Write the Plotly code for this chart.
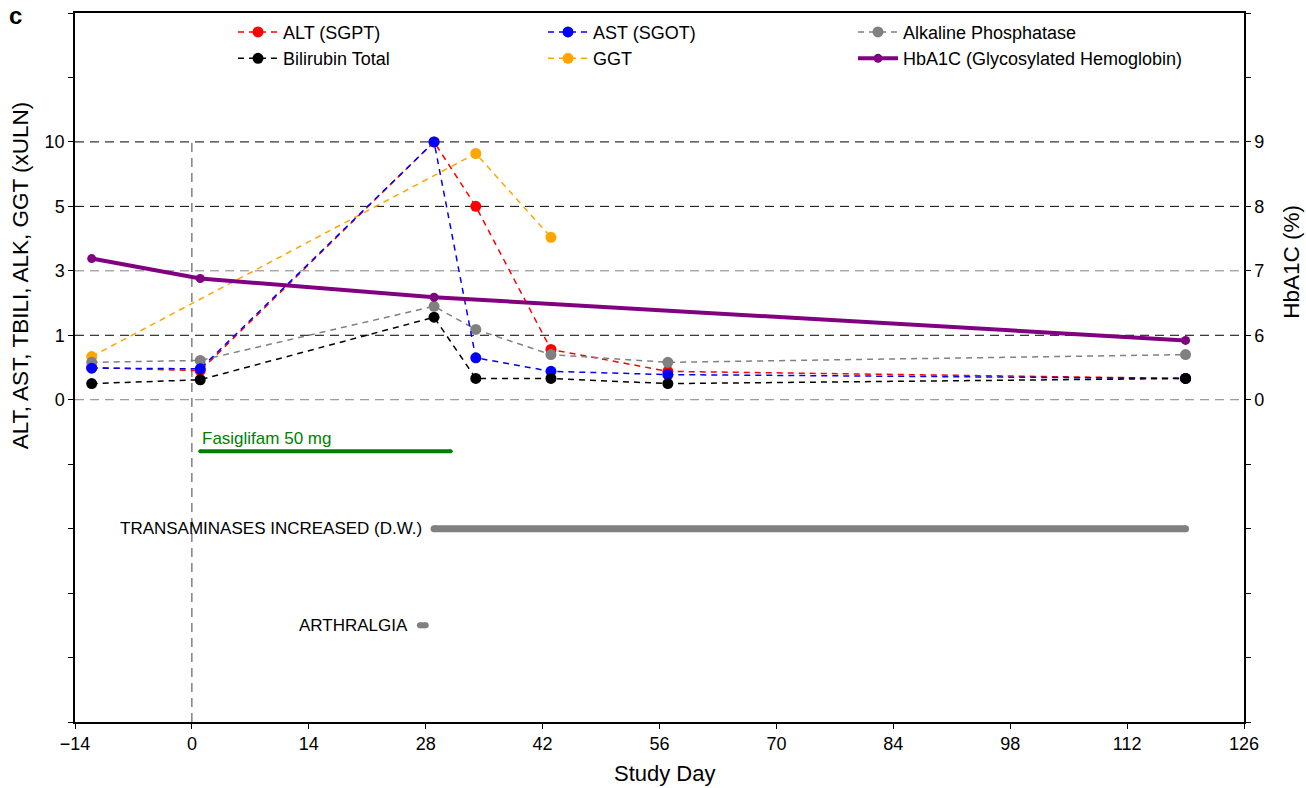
import numpy as np
import plotly.graph_objects as go

# ---------------- data ----------------
days = [-12, 1, 29, 34, 43, 57, 119]
alt = [0.50, 0.45, 10.0, 5.0, 0.78, 0.44, 0.33]
ast = [0.49, 0.48, 10.0, 0.65, 0.44, 0.39, 0.33]
alk = [0.58, 0.61, 1.90, 1.18, 0.70, 0.58, 0.70]
tbili = [0.25, 0.31, 1.56, 0.33, 0.33, 0.25, 0.33]
ggt_days = [-12, 34, 43]
ggt = [0.67, 9.1, 4.04]
hba1c_days = [-12, 1, 29, 119]
hba1c = [7.19, 6.88, 6.59, 5.92]

# left axis: broken xULN scale
left_tick_vals = [0, 1, 3, 5, 10]
# right axis: HbA1C (%)
right_tick_vals = [0, 6, 7, 8, 9]

x_ticks = [-14, 0, 14, 28, 42, 56, 70, 84, 98, 112, 126]

event_names = ["Fasiglifam 50 mg", "TRANSAMINASES INCREASED (D.W.)", "ARTHRALGIA"]
event_start = [1, 29, 27.3]
event_end = [31, 119, 28]
event_row = [-0.8, -2.0, -3.5]

# --------------- scale helpers ---------------
def uln_pos(v):
    return np.interp(v, [0, 1, 3, 5, 10], [0, 1, 2, 3, 4])

def hba_pos(v):
    v = np.asarray(v, dtype=float)
    return np.where(v >= 5, v - 5, v / 5.0)

FONT = "Liberation Sans, Arial, sans-serif"

fig = go.Figure()

dash = "6px,5px"
# name, x, y, colour, legend rank, legend column
series = [
    ("GGT", ggt_days, ggt, "#FFA500", 2, "legend2"),
    ("ALT (SGPT)", days, alt, "#FF0000", 1, "legend"),
    ("Alkaline Phosphatase", days, alk, "#808080", 1, "legend3"),
    ("AST (SGOT)", days, ast, "#0000FF", 1, "legend2"),
    ("Bilirubin Total", days, tbili, "#000000", 2, "legend"),
]
for name, xs, ys, col, rank, lg in series:
    fig.add_trace(go.Scatter(
        x=xs, y=uln_pos(ys), name=name, mode="lines+markers",
        line=dict(color=col, width=1.5, dash=dash),
        marker=dict(color=col, size=11),
        legendrank=rank, legend=lg, yaxis="y",
    ))

fig.add_trace(go.Scatter(
    x=hba1c_days, y=hba_pos(hba1c), name="HbA1C (Glycosylated Hemoglobin)",
    mode="lines+markers", line=dict(color="#800080", width=4),
    marker=dict(color="#800080", size=9), legendrank=2, legend="legend3", yaxis="y2",
))

# events (line with round end caps emulated by end markers)
event_colors = ["#008000", "#808080", "#808080"]
event_widths = [4, 7, 6]
for name, s, e, r, c, w in zip(event_names, event_start, event_end, event_row, event_colors, event_widths):
    fig.add_trace(go.Scatter(
        x=[s, e], y=[r, r], mode="lines+markers", line=dict(color=c, width=w),
        marker=dict(color=c, size=w, line=dict(width=0)),
        showlegend=False, hoverinfo="skip", yaxis="y",
    ))

# event labels
fig.add_annotation(x=event_start[0], y=event_row[0] + 0.2, xref="x", yref="y",
                   text=event_names[0], showarrow=False, xanchor="left", yanchor="middle",
                   font=dict(size=17, color="#008000", family=FONT))
for i in (1, 2):
    fig.add_annotation(x=event_start[i] - 1.2, y=event_row[i], xref="x", yref="y",
                       text=event_names[i], showarrow=False, xanchor="right", yanchor="middle",
                       font=dict(size=17, color="#000000", family=FONT))

# horizontal reference lines
grid_cols = {0: "#808080", 1: "#000000", 2: "#808080", 3: "#000000", 4: "#000000"}
for p, c in grid_cols.items():
    fig.add_shape(type="line", xref="paper", yref="y", x0=0, x1=1, y0=p, y1=p,
                  line=dict(color=c, width=1, dash="9px,6px"), layer="below")

# vertical line at day 0
fig.add_shape(type="line", xref="x", yref="y", x0=0, x1=0, y0=-5, y1=4,
              line=dict(color="#404040", width=1, dash="9px,6px"), layer="below")

left_tickvals = list(range(-5, 7))
left_ticktext = ["" for _ in left_tickvals]
for v in left_tick_vals:
    left_ticktext[left_tickvals.index(int(uln_pos(v)))] = str(v)
right_ticktext = ["" for _ in left_tickvals]
for v in right_tick_vals:
    right_ticktext[left_tickvals.index(int(hba_pos(v)))] = str(v)

axis_common = dict(showgrid=False, zeroline=False, showline=True, linecolor="black",
                   linewidth=1.5, ticks="outside", ticklen=5, tickcolor="black",
                   tickfont=dict(size=18, family=FONT, color="black"))

legend_common = dict(orientation="v", y=0.999, xanchor="left", yanchor="top",
                     font=dict(size=18, family=FONT, color="black"),
                     bgcolor="rgba(0,0,0,0)", itemwidth=40, tracegroupgap=0)

fig.update_layout(
    width=1306, height=788,
    margin=dict(l=75, r=62, t=13, b=66),
    paper_bgcolor="white", plot_bgcolor="white",
    font=dict(family=FONT, color="black"),
    xaxis=dict(range=[-14, 126], tickvals=x_ticks, mirror=True, **axis_common),
    yaxis=dict(range=[-5, 6], tickvals=left_tickvals, ticktext=left_ticktext, **axis_common),
    yaxis2=dict(range=[-5, 6], tickvals=left_tickvals, ticktext=right_ticktext,
                overlaying="y", side="right", **axis_common),
    legend=dict(x=(233 - 75) / 1169, **legend_common),
    legend2=dict(x=(543 - 75) / 1169, **legend_common),
    legend3=dict(x=(853 - 75) / 1169, **legend_common),
    showlegend=True,
)

# titles
fig.add_annotation(x=(20 - 75) / 1169, y=0.630, xref="paper", yref="paper",
                   text="ALT, AST, TBILI, ALK, GGT (xULN)", textangle=-90,
                   xanchor="center", yanchor="middle",
                   showarrow=False, font=dict(size=22.5, family=FONT))
fig.add_annotation(x=(1292 - 75) / 1169, y=0.649, xref="paper", yref="paper",
                   text="HbA1C (%)", textangle=-90, xanchor="center", yanchor="middle",
                   showarrow=False, font=dict(size=22.5, family=FONT))
fig.add_annotation(x=0.505, y=-0.0733, xref="paper", yref="paper",
                   text="Study Day", showarrow=False, xanchor="center", yanchor="middle",
                   font=dict(size=22, family=FONT))
fig.add_annotation(x=(15 - 75) / 1169, y=0.996, xref="paper", yref="paper",
                   text="<b>c</b>", showarrow=False, xanchor="center", yanchor="middle",
                   font=dict(size=24, family=FONT))

fig.write_html("out.html")
